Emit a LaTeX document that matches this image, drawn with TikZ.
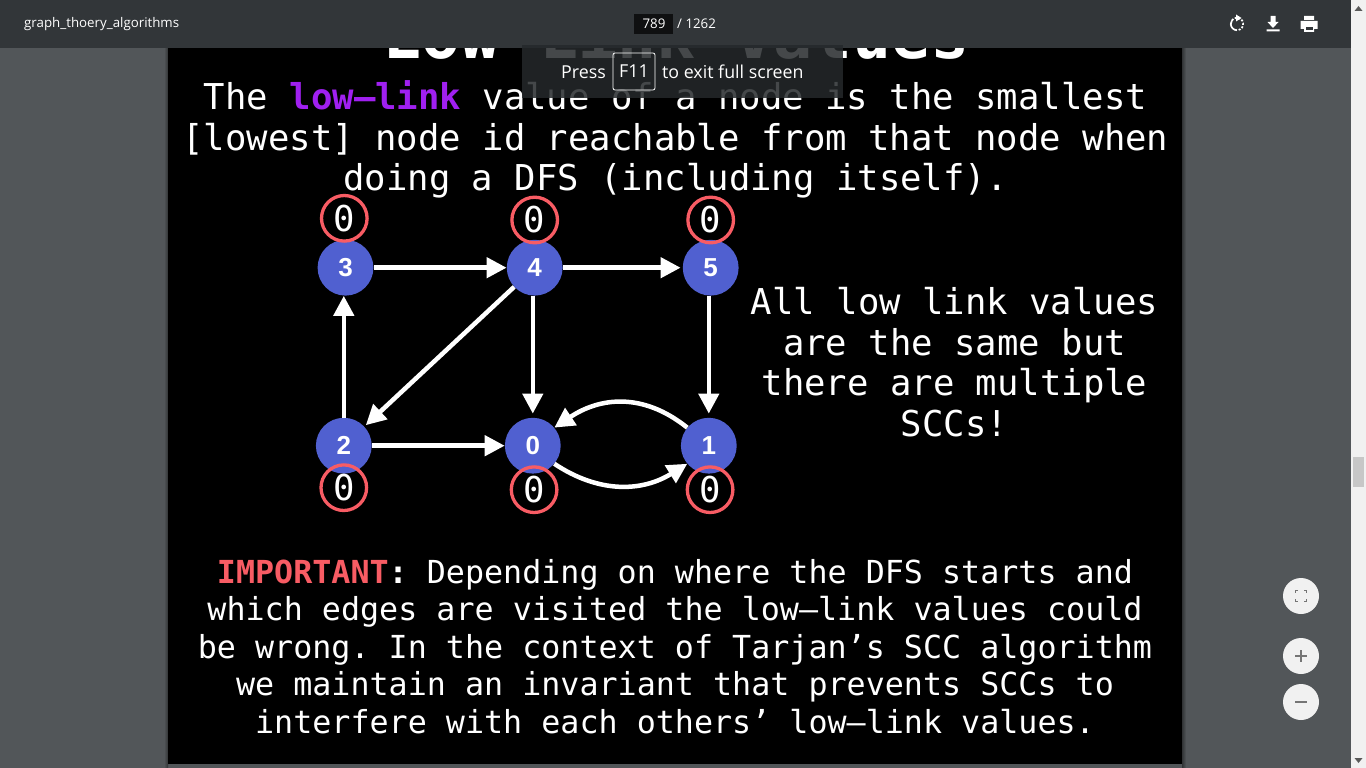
\documentclass[tikz,border=0pt]{standalone}
\usepackage{fontspec}
\setmainfont{Liberation Sans}
\setmonofont{DejaVu Sans Mono}
\newfontfamily\uifont{Open Sans}
\usetikzlibrary{arrows.meta}
\definecolor{barGrey}{HTML}{323639}
\definecolor{sideGrey}{HTML}{525659}
\definecolor{scrollGrey}{HTML}{F1F1F1}
\definecolor{nodeBlue}{HTML}{5060D0}
\definecolor{badgeRed}{HTML}{F85C64}
\definecolor{linkPurple}{HTML}{A020F0}
\definecolor{iconGrey}{HTML}{757575}
\tikzstyle{vertex} = [circle, minimum size=55.8pt, inner sep=0pt, fill=nodeBlue, text=white, font=\fontsize{26}{26}\selectfont\bfseries]
\tikzstyle{badge} = [circle, minimum size=45.6pt, inner sep=0pt, draw=badgeRed, line width=3.3pt, text=white, font=\fontsize{35.6}{35.6}\selectfont\ttfamily]
\tikzstyle{arrow} = [white, line width=4.5pt, -{Triangle[length=20pt,width=20pt]}]
\tikzstyle{slidetext} = [white, align=center, inner sep=0pt, font=\fontsize{35.6}{40.7}\selectfont\ttfamily]
\tikzstyle{smalltext} = [white, align=center, inner sep=0pt, font=\fontsize{31.7}{37.6}\selectfont\ttfamily]
\tikzstyle{uitext} = [inner sep=0pt, font=\fontsize{13.3}{13.3}\selectfont\uifont]
\tikzstyle{hinttext} = [white, inner sep=0pt, font=\fontsize{17.8}{17.8}\selectfont\uifont]
\tikzstyle{roundbutton} = [circle, minimum size=36pt, inner sep=0pt, fill=scrollGrey]
\begin{document}
\begin{tikzpicture}[x=1pt,y=-1pt]
        \useasboundingbox (0,0) rectangle (1366,768);
        % page behind the slide
        \fill [sideGrey] (0,0) rectangle (1351,768);
        \shade [left color=sideGrey, right color=black!40!sideGrey] (164,48) rectangle (168,768);
        \shade [left color=black!40!sideGrey, right color=sideGrey] (1182,48) rectangle (1186,768);
        \fill [black] (168,48) rectangle (1182,764);
        \node (title) [white, inner sep=0pt, font=\fontsize{65}{65}\selectfont\ttfamily\bfseries] at (676,33) {Low–Link Values};

        % slide text
        \node (intro) [slidetext] at (675.5,139.5) {The \textcolor{linkPurple}{\bfseries low–link} value of a node is the smallest\\{}[lowest] node id reachable from that node when\\doing a DFS (including itself).};
        \node (remark) [slidetext] at (954.5,362) {All low link values\\are the same but\\there are multiple\\SCCs!};
        \node (warning) [smalltext] at (675,646.5) {\textcolor{badgeRed}{\bfseries IMPORTANT}{\bfseries :} Depending on where the DFS starts and\\which edges are visited the low–link values could\\be wrong. In the context of Tarjan’s SCC algorithm\\we maintain an invariant that prevents SCCs to\\interfere with each others’ low–link values.};

        % graph
        \node (nodeThree) [vertex] at (345.5,267.7) {3};
        \node (nodeFour) [vertex, right of=nodeThree, node distance=189.2pt] {4};
        \node (nodeFive) [vertex, right of=nodeFour, node distance=176pt] {5};
        \node (nodeTwo) [vertex, below of=nodeThree, node distance=178pt, xshift=-1.7pt] {2};
        \node (nodeZero) [vertex, right of=nodeTwo, node distance=189pt] {0};
        \node (nodeOne) [vertex, right of=nodeZero, node distance=176pt] {1};

        \node (lowThree) [badge, above of=nodeThree, node distance=49.4pt, xshift=-1.2pt] {0};
        \node (lowFour) [badge, above of=nodeFour, node distance=47.7pt] {0};
        \node (lowFive) [badge, above of=nodeFive, node distance=47.7pt] {0};
        \node (lowTwo) [badge, below of=nodeTwo, node distance=42pt] {0};
        \node (lowZero) [badge, below of=nodeZero, node distance=44pt, xshift=1.3pt] {0};
        \node (lowOne) [badge, below of=nodeOne, node distance=44pt, xshift=1.3pt] {0};

        \draw [arrow] (nodeThree) -- (nodeFour);
        \draw [arrow, shorten >=2pt] (nodeFour) -- (nodeFive);
        \draw [arrow] (nodeTwo) -- (nodeZero);
        \draw [arrow] (nodeTwo) -- (nodeTwo |- nodeThree.south);
        \draw [arrow, shorten >=2pt] (nodeFour) -- (nodeTwo);
        \draw [arrow, shorten >=4pt] (nodeFour.south -| nodeZero) -- (nodeZero);
        \draw [arrow, shorten >=4pt] (nodeFive.south -| nodeOne) -- (nodeOne);
        \draw [arrow] (nodeOne.140) .. controls +(-45,-36) and +(45,-30) .. (nodeZero.40);
        \draw [arrow] (nodeZero.-40) .. controls +(45,30) and +(-45,28) .. (nodeOne.-140);

        % viewer toolbar
        \fill [barGrey] (0,0) rectangle (1351,48);
        \node (fileName) [uitext, white, anchor=west] at (24,24) {graph\_thoery\_algorithms};
        \fill [black!70!barGrey] (634,14) rectangle (673,34);
        \node (pageNumber) [uitext, white] at (654,24) {789};
        \node (pageCount) [uitext, white, anchor=west] at (677,24) {/ 1262};
        \draw [white, line width=1.7pt] (1237,24) ++(90:6.2) arc (90:215:6.2);
        \draw [white, line width=1.7pt, dash pattern=on 2pt off 1.6pt] (1237,24) ++(215:6.2) arc (215:440:6.2);
        \fill [white] (1236,14.5) -- (1241.5,18) -- (1236,21.5) -- cycle;
        \fill [white] (1270.5,16) rectangle (1275.5,22) (1267.5,22) -- (1278.5,22) -- (1273,28) -- cycle (1266.5,29.5) rectangle (1279.5,31.5);
        \fill [white] (1304,16) rectangle (1314,20) (1300.5,21) rectangle (1317.5,29) (1304,26) rectangle (1314,32);
        \fill [barGrey] (1305.5,27) rectangle (1312.5,30.5);

        % full screen hint
        \fill [barGrey!75!black, opacity=0.85] (522,45) rectangle (843,98);
        \node (pressHint) [hinttext, anchor=east] at (606,72) {Press};
        \node (keyHint) [hinttext, draw=white, rounded corners=2pt, line width=0.8pt, minimum width=42pt, minimum height=37pt] at (634,71.5) {F11};
        \node (exitHint) [hinttext, anchor=west] at (662,72) {to exit full screen};

        % zoom buttons
        \node (fitButton) [roundbutton] at (1301,596) {};
        \node (plusButton) [roundbutton] at (1301,656) {};
        \node (minusButton) [roundbutton] at (1301,702) {};
        \draw [iconGrey, line width=1.7pt] (1295.5,599) -- (1295.5,601.5) -- (1298,601.5) (1304,601.5) -- (1306.5,601.5) -- (1306.5,599) (1306.5,593) -- (1306.5,590.5) -- (1304,590.5) (1298,590.5) -- (1295.5,590.5) -- (1295.5,593);
        \draw [iconGrey, line width=1.7pt] (1295,656) -- (1307,656) (1301,650) -- (1301,662);
        \draw [iconGrey, line width=1.7pt] (1295,702) -- (1307,702);

        % scroll bar
        \fill [scrollGrey] (1351,0) rectangle (1366,768);
        \fill [black!22] (1353,457) rectangle (1364,487);
        \fill [black!65] (1354.5,11) -- (1358.5,6) -- (1362.5,11) -- cycle;
        \fill [black!65] (1354.5,758) -- (1362.5,758) -- (1358.5,763) -- cycle;
      \end{tikzpicture}
\end{document}
